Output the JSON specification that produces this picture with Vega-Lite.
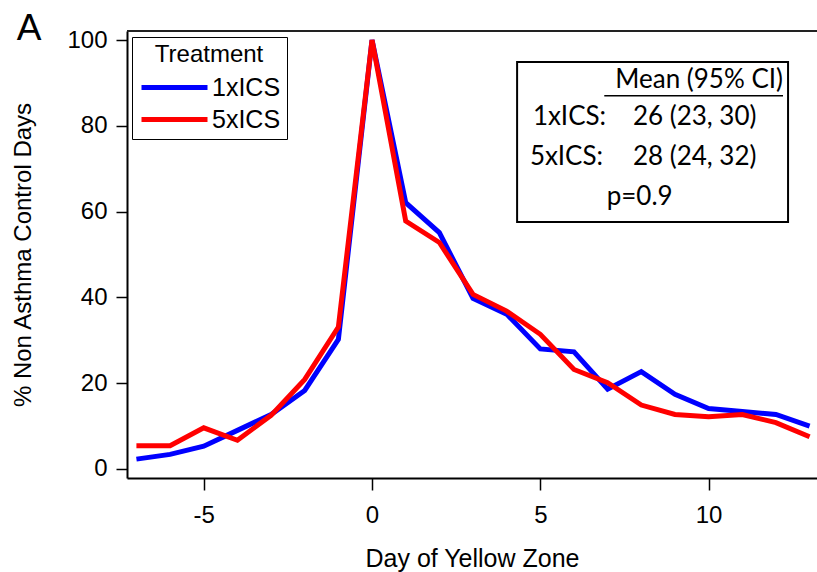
{
  "$schema": "https://vega.github.io/schema/vega-lite/v6.json",
  "width": 690,
  "height": 447,
  "autosize": {"type": "none"},
  "padding": {"left": 127, "top": 31, "right": 0, "bottom": 94},
  "background": "white",
  "config": {"view": {"stroke": null}, "font": "Liberation Sans"},
  "datasets": {
    "series": [
      {"day": -7, "pct": 2.3, "treatment": "1xICS"},
      {"day": -6, "pct": 3.4, "treatment": "1xICS"},
      {"day": -5, "pct": 5.3, "treatment": "1xICS"},
      {"day": -4, "pct": 9.0, "treatment": "1xICS"},
      {"day": -3, "pct": 12.7, "treatment": "1xICS"},
      {"day": -2, "pct": 18.3, "treatment": "1xICS"},
      {"day": -1, "pct": 30.2, "treatment": "1xICS"},
      {"day": 0, "pct": 100, "treatment": "1xICS"},
      {"day": 1, "pct": 62.1, "treatment": "1xICS"},
      {"day": 2, "pct": 55.1, "treatment": "1xICS"},
      {"day": 3, "pct": 39.8, "treatment": "1xICS"},
      {"day": 4, "pct": 36.1, "treatment": "1xICS"},
      {"day": 5, "pct": 28.0, "treatment": "1xICS"},
      {"day": 6, "pct": 27.3, "treatment": "1xICS"},
      {"day": 7, "pct": 18.6, "treatment": "1xICS"},
      {"day": 8, "pct": 22.7, "treatment": "1xICS"},
      {"day": 9, "pct": 17.4, "treatment": "1xICS"},
      {"day": 10, "pct": 14.1, "treatment": "1xICS"},
      {"day": 11, "pct": 13.4, "treatment": "1xICS"},
      {"day": 12, "pct": 12.7, "treatment": "1xICS"},
      {"day": 13, "pct": 10.0, "treatment": "1xICS"},
      {"day": -7, "pct": 5.4, "treatment": "5xICS"},
      {"day": -6, "pct": 5.4, "treatment": "5xICS"},
      {"day": -5, "pct": 9.6, "treatment": "5xICS"},
      {"day": -4, "pct": 6.7, "treatment": "5xICS"},
      {"day": -3, "pct": 12.5, "treatment": "5xICS"},
      {"day": -2, "pct": 20.9, "treatment": "5xICS"},
      {"day": -1, "pct": 33.1, "treatment": "5xICS"},
      {"day": 0, "pct": 100, "treatment": "5xICS"},
      {"day": 1, "pct": 57.8, "treatment": "5xICS"},
      {"day": 2, "pct": 52.8, "treatment": "5xICS"},
      {"day": 3, "pct": 40.7, "treatment": "5xICS"},
      {"day": 4, "pct": 36.8, "treatment": "5xICS"},
      {"day": 5, "pct": 31.4, "treatment": "5xICS"},
      {"day": 6, "pct": 23.2, "treatment": "5xICS"},
      {"day": 7, "pct": 20.1, "treatment": "5xICS"},
      {"day": 8, "pct": 14.9, "treatment": "5xICS"},
      {"day": 9, "pct": 12.7, "treatment": "5xICS"},
      {"day": 10, "pct": 12.2, "treatment": "5xICS"},
      {"day": 11, "pct": 12.7, "treatment": "5xICS"},
      {"day": 12, "pct": 10.8, "treatment": "5xICS"},
      {"day": 13, "pct": 7.5, "treatment": "5xICS"}
    ],
    "one": [{}]
  },
  "layer": [
    {
      "data": {"name": "series"},
      "mark": {"type": "line", "strokeWidth": 5},
      "encoding": {
        "x": {
          "field": "day", "type": "quantitative",
          "scale": {"domain": [-7.28, 13.22], "nice": false, "zero": false},
          "axis": {"values": [-5, 0, 5, 10], "grid": false, "title": "Day of Yellow Zone", "labelExpr": "'' + datum.value",
            "domainColor": "black", "domainWidth": 2, "tickColor": "black", "tickWidth": 1.5, "tickSize": 12,
            "labelFontSize": 24, "labelColor": "black", "labelPadding": 13, "labelFont": "Liberation Sans",
            "titleFontSize": 25, "titleFontWeight": "normal", "titleColor": "black", "titlePadding": 19, "titleFont": "Liberation Sans"}
        },
        "y": {
          "field": "pct", "type": "quantitative",
          "scale": {"domain": [-2.1, 102.1], "nice": false, "zero": false},
          "axis": {"values": [0, 20, 40, 60, 80, 100], "grid": false, "title": "% Non Asthma Control Days",
            "domainColor": "black", "domainWidth": 2, "tickColor": "black", "tickWidth": 1.5, "tickSize": 11,
            "labelFontSize": 24, "labelColor": "black", "labelPadding": 9, "labelFont": "Liberation Sans",
            "titleFontSize": 24, "titleFontWeight": "normal", "titleColor": "black", "titlePadding": 31, "titleFont": "Liberation Sans"}
        },
        "color": {
          "field": "treatment", "type": "nominal",
          "scale": {"domain": ["1xICS", "5xICS"], "range": ["#0000ff", "#ff0000"]},
          "legend": {"orient": "none", "legendX": 5, "legendY": 6, "title": "Treatment",
            "titleFontSize": 24, "titleFontWeight": "normal", "titleColor": "black", "titleFont": "Liberation Sans",
            "titleAnchor": "middle", "titleAlign": "center", "titlePadding": 7,
            "labelFontSize": 25, "labelColor": "black", "labelFont": "Liberation Sans",
            "symbolType": "M-3,0H3", "symbolSize": 484, "symbolStrokeWidth": 5, "symbolOffset": 23,
            "strokeColor": "black", "fillColor": "white", "padding": 6, "rowPadding": 5, "labelOffset": 24}
        }
      }
    },
    {
      "data": {"name": "one"},
      "mark": {"type": "rule", "color": "#222222", "strokeWidth": 2},
      "encoding": {"y": {"datum": 102.1}}
    },
    {
      "data": {"name": "one"},
      "mark": {"type": "text", "font": "Liberation Sans", "fontSize": 37, "align": "center", "baseline": "alphabetic", "color": "black"},
      "encoding": {"x": {"datum": -10.19}, "y": {"datum": 100}, "text": {"value": "A"}}
    },
    {
      "data": {"name": "one"},
      "mark": {"type": "rect", "fillOpacity": 0, "stroke": "black", "strokeWidth": 2},
      "encoding": {"x": {"datum": 4.31}, "x2": {"datum": 12.36}, "y": {"datum": 94.87}, "y2": {"datum": 57.58}}
    },
    {
      "data": {"name": "one"},
      "mark": {"type": "text", "font": "Lato", "fontSize": 26, "align": "right", "baseline": "middle", "color": "black"},
      "encoding": {"x": {"datum": 12.21}, "y": {"datum": 90.68}, "text": {"value": "Mean (95% CI)"}}
    },
    {
      "data": {"name": "one"},
      "mark": {"type": "rule", "color": "black", "strokeWidth": 1.5},
      "encoding": {"x": {"datum": 6.9}, "x2": {"datum": 12.21}, "y": {"datum": 87.0}}
    },
    {
      "data": {"name": "one"},
      "mark": {"type": "text", "font": "Lato", "fontSize": 26, "align": "left", "baseline": "middle", "color": "black"},
      "encoding": {"x": {"datum": 4.78}, "y": {"datum": 82.05}, "text": {"value": "1xICS:"}}
    },
    {
      "data": {"name": "one"},
      "mark": {"type": "text", "font": "Lato", "fontSize": 26, "align": "left", "baseline": "middle", "color": "black"},
      "encoding": {"x": {"datum": 7.75}, "y": {"datum": 82.05}, "text": {"value": "26 (23, 30)"}}
    },
    {
      "data": {"name": "one"},
      "mark": {"type": "text", "font": "Lato", "fontSize": 26, "align": "left", "baseline": "middle", "color": "black"},
      "encoding": {"x": {"datum": 4.69}, "y": {"datum": 72.73}, "text": {"value": "5xICS:"}}
    },
    {
      "data": {"name": "one"},
      "mark": {"type": "text", "font": "Lato", "fontSize": 26, "align": "left", "baseline": "middle", "color": "black"},
      "encoding": {"x": {"datum": 7.75}, "y": {"datum": 72.73}, "text": {"value": "28 (24, 32)"}}
    },
    {
      "data": {"name": "one"},
      "mark": {"type": "text", "font": "Lato", "fontSize": 26, "align": "center", "baseline": "middle", "color": "black"},
      "encoding": {"x": {"datum": 7.95}, "y": {"datum": 63.4}, "text": {"value": "p=0.9"}}
    }
  ]
}
